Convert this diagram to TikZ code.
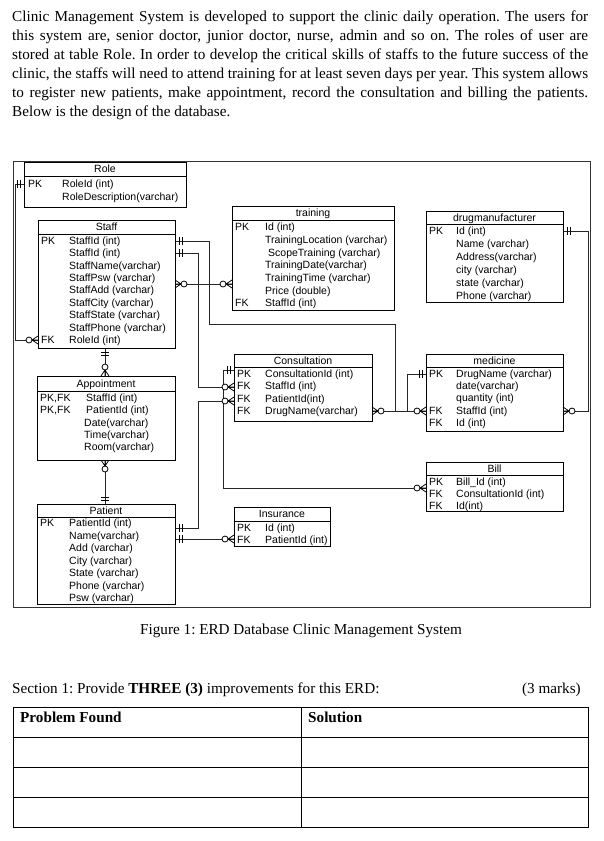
\documentclass[tikz,border=0pt]{standalone}
\usepackage{fontspec}
\setmainfont{Liberation Serif}
\newfontfamily\erdfont{Liberation Sans}
\frenchspacing
\newcommand\etable[7]{%
  \node[tbl, anchor=north west, inner sep=0pt, minimum width={(#4-#2)*1pt}, minimum height={(#5-#3)*1pt}] (#1) at (#2,#3) {};
  \draw[tbl] (#2,#6) -- (#4,#6);
  \node[ehead] (#1-h) at ({(#2+#4)/2},{(#3+#6)/2+3.7}) {#7};
}
\newcommand\erow[4]{\node[etext] (#1) at (#2,{#3+3.7}) {#4};}
\begin{document}
\begin{tikzpicture}[x=1pt,y=-1pt,
  tbl/.style={draw=black, line width=0.9pt},
  etext/.style={anchor=base west, inner sep=0pt, font=\erdfont\fontsize{10.5}{11}\selectfont},
  ehead/.style={anchor=base, inner sep=0pt, font=\erdfont\fontsize{10.5}{11}\selectfont},
  conn/.style={draw=black!85, line width=0.8pt},
  body/.style={anchor=base west, inner sep=0pt, font=\fontsize{15.2}{19}\selectfont},
  zm/.pic={\draw[black, line width=0.8pt] (0,-4) -- (6,0) -- (0,4) (0,0) -- (6,0);
           \draw[black, line width=0.8pt, fill=white] (9,0) circle (3);},
  om/.pic={\draw[black, line width=0.8pt] (4,-4) -- (4,4) (7,-4) -- (7,4);}
]
\useasboundingbox (0,0) rectangle (604,841);
\fill[white] (0,0) rectangle (604,841);

% ---------- intro paragraph ----------
\node[body] (p1) at (12,21) {\makebox[576pt][s]{Clinic Management System is developed to support the clinic daily operation. The users for}};
\node[body] (p2) at (12,40) {\makebox[576pt][s]{this system are, senior doctor, junior doctor, nurse, admin and so on. The roles of user are}};
\node[body] (p3) at (12,59) {\makebox[576pt][s]{stored at table Role. In order to develop the critical skills of staffs to the future success of the}};
\node[body] (p4) at (12,78) {\makebox[576pt][s]{clinic, the staffs will need to attend training for at least seven days per year. This system allows}};
\node[body] (p5) at (12,97) {\makebox[576pt][s]{to register new patients, make appointment, record the consultation and billing the patients.}};
\node[body] (p6) at (12,116) {Below is the design of the database.};

% ---------- frame ----------
\draw[draw=black!80, line width=0.9pt] (13,161) rectangle (590,607);

% ---------- connectors ----------
\coordinate (a1) at (24,184);  \coordinate (a2) at (38,340);
\draw[conn] (a1) -- (15,184) |- (a2);
\coordinate (b1) at (175,241); \coordinate (b2) at (426,411);
\draw[conn] (b1) -- (209,241) -- (209,324) -- (395,324) |- (b2);
\coordinate (c1) at (175,253); \coordinate (c2) at (234,387);
\draw[conn] (c1) -- (198,253) |- (c2);
\coordinate (d1) at (175,284); \coordinate (d2) at (232,284);
\draw[conn] (d1) -- (d2);
\coordinate (e1) at (105,348); \coordinate (e2) at (105,376);
\draw[conn] (e1) -- (e2);
\coordinate (f1) at (105,460); \coordinate (f2) at (105,504);
\draw[conn] (f1) -- (f2);
\coordinate (g1) at (175,528); \coordinate (g2) at (234,401);
\draw[conn] (g1) -- (198,528) |- (g2);
\coordinate (h1) at (175,539); \coordinate (h2) at (234,539);
\draw[conn] (h1) -- (h2);
\coordinate (i1) at (234,370); \coordinate (i2) at (426,488);
\draw[conn] (i1) -- (223,370) |- (i2);
\coordinate (j1) at (372,411); \coordinate (j2) at (426,374);
\draw[conn] (j1) -- (407,411) |- (j2);
\coordinate (k1) at (563,231); \coordinate (k2) at (563,411);
\draw[conn] (k1) -- (588,231) |- (k2);

% ---------- tables ----------
\etable{role}{24}{162}{186}{207}{176}{Role}
\erow{role-k1}{28}{184}{PK}
\erow{role-1}{62}{184}{RoleId (int)}
\erow{role-2}{62}{197}{RoleDescription(varchar)}

\etable{staff}{38}{220}{175}{348}{234}{Staff}
\erow{staff-k1}{41}{241}{PK}
\erow{staff-1}{69}{241}{StaffId (int)}
\erow{staff-2}{69}{253}{StaffId (int)}
\erow{staff-3}{69}{266}{StaffName(varchar)}
\erow{staff-4}{69}{278}{StaffPsw (varchar)}
\erow{staff-5}{69}{290}{StaffAdd (varchar)}
\erow{staff-6}{69}{303}{StaffCity (varchar)}
\erow{staff-7}{69}{315}{StaffState (varchar)}
\erow{staff-8}{69}{328}{StaffPhone (varchar)}
\erow{staff-k9}{41}{340}{FK}
\erow{staff-9}{69}{340}{RoleId (int)}

\etable{train}{232}{206}{394}{310}{220}{training}
\erow{train-k1}{235}{227}{PK}
\erow{train-1}{265}{227}{Id (int)}
\erow{train-2}{265}{240}{TrainingLocation (varchar)}
\erow{train-3}{268}{253}{ScopeTraining (varchar)}
\erow{train-4}{265}{265}{TrainingDate(varchar)}
\erow{train-5}{265}{278}{TrainingTime (varchar)}
\erow{train-6}{265}{291}{Price (double)}
\erow{train-k7}{235}{303}{FK}
\erow{train-7}{265}{303}{StaffId (int)}

\etable{drug}{426}{211}{563}{302}{224}{drugmanufacturer}
\erow{drug-k1}{429}{231}{PK}
\erow{drug-1}{456}{231}{Id (int)}
\erow{drug-2}{456}{244}{Name (varchar)}
\erow{drug-3}{456}{257}{Address(varchar)}
\erow{drug-4}{456}{270}{city (varchar)}
\erow{drug-5}{456}{283}{state (varchar)}
\erow{drug-6}{456}{296}{Phone (varchar)}

\etable{cons}{234}{354}{372}{421}{367}{Consultation}
\erow{cons-k1}{237}{374}{PK}
\erow{cons-1}{265}{374}{ConsultationId (int)}
\erow{cons-k2}{237}{386}{FK}
\erow{cons-2}{265}{386}{StaffId (int)}
\erow{cons-k3}{237}{399}{FK}
\erow{cons-3}{265}{399}{PatientId(int)}
\erow{cons-k4}{237}{411}{FK}
\erow{cons-4}{265}{411}{DrugName(varchar)}

\etable{med}{426}{354}{563}{431}{367}{medicine}
\erow{med-k1}{429}{374}{PK}
\erow{med-1}{456}{374}{DrugName (varchar)}
\erow{med-2}{456}{386}{date(varchar)}
\erow{med-3}{456}{398}{quantity (int)}
\erow{med-k4}{429}{411}{FK}
\erow{med-4}{456}{411}{StaffId (int)}
\erow{med-k5}{429}{423}{FK}
\erow{med-5}{456}{423}{Id (int)}

\etable{appt}{37}{376}{175}{460}{391}{Appointment}
\erow{appt-k1}{40}{398}{PK,FK}
\erow{appt-1}{86}{398}{StaffId (int)}
\erow{appt-k2}{40}{410}{PK,FK}
\erow{appt-2}{86}{410}{PatientId (int)}
\erow{appt-3}{84}{423}{Date(varchar)}
\erow{appt-4}{84}{435}{Time(varchar)}
\erow{appt-5}{84}{447}{Room(varchar)}

\etable{bill}{426}{462}{563}{511}{475}{Bill}
\erow{bill-k1}{429}{482}{PK}
\erow{bill-1}{456}{482}{Bill\_Id (int)}
\erow{bill-k2}{429}{494}{FK}
\erow{bill-2}{456}{494}{ConsultationId (int)}
\erow{bill-k3}{429}{506}{FK}
\erow{bill-3}{456}{506}{Id(int)}

\etable{ins}{234}{507}{330}{546}{521}{Insurance}
\erow{ins-k1}{237}{528}{PK}
\erow{ins-1}{265}{528}{Id (int)}
\erow{ins-k2}{237}{540}{FK}
\erow{ins-2}{265}{540}{PatientId (int)}

\etable{pat}{37}{504}{175}{604}{517}{Patient}
\erow{pat-k1}{40}{523}{PK}
\erow{pat-1}{69}{523}{PatientId (int)}
\erow{pat-2}{69}{536}{Name(varchar)}
\erow{pat-3}{69}{548}{Add (varchar)}
\erow{pat-4}{69}{561}{City (varchar)}
\erow{pat-5}{69}{573}{State (varchar)}
\erow{pat-6}{69}{586}{Phone (varchar)}
\erow{pat-7}{69}{598}{Psw (varchar)}

% ---------- connector ends ----------
\pic[rotate=180] at (a1) {om};  \pic[rotate=180] at (a2) {zm};
\pic at (b1) {om};              \pic[rotate=180] at (b2) {zm};
\pic at (c1) {om};              \pic[rotate=180] at (c2) {zm};
\pic at (d1) {zm};              \pic[rotate=180] at (d2) {zm};
\pic[rotate=-90] at (e1) {om};  \pic[rotate=90] at (e2) {zm};
\pic[rotate=-90] at (f1) {zm};  \pic[rotate=90] at (f2) {om};
\pic at (g1) {om};              \pic[rotate=180] at (g2) {zm};
\pic at (h1) {om};              \pic[rotate=180] at (h2) {zm};
\pic[rotate=180] at (i1) {om};  \pic[rotate=180] at (i2) {zm};
\pic at (j1) {zm};              \pic[rotate=180] at (j2) {om};
\pic at (k1) {om};              \pic at (k2) {zm};

% ---------- caption & question ----------
\node[anchor=base, inner sep=0pt, font=\fontsize{15.2}{19}\selectfont] (cap) at (301,634) {Figure 1: ERD Database Clinic Management System};
\node[body] (sec) at (12,693) {Section 1: Provide \textbf{THREE (3)} improvements for this ERD:};
\node[anchor=base east, inner sep=0pt, font=\fontsize{15.2}{19}\selectfont] (marks) at (581,693) {(3 marks)};

\draw[line width=0.9pt] (13,707) rectangle (588,827);
\draw[line width=0.9pt] (13,737) -- (588,737) (13,767) -- (588,767) (13,797) -- (588,797) (301,707) -- (301,827);
\node[body] (th1) at (20,722) {\textbf{Problem Found}};
\node[body] (th2) at (308,722) {\textbf{Solution}};
\end{tikzpicture}
\end{document}
